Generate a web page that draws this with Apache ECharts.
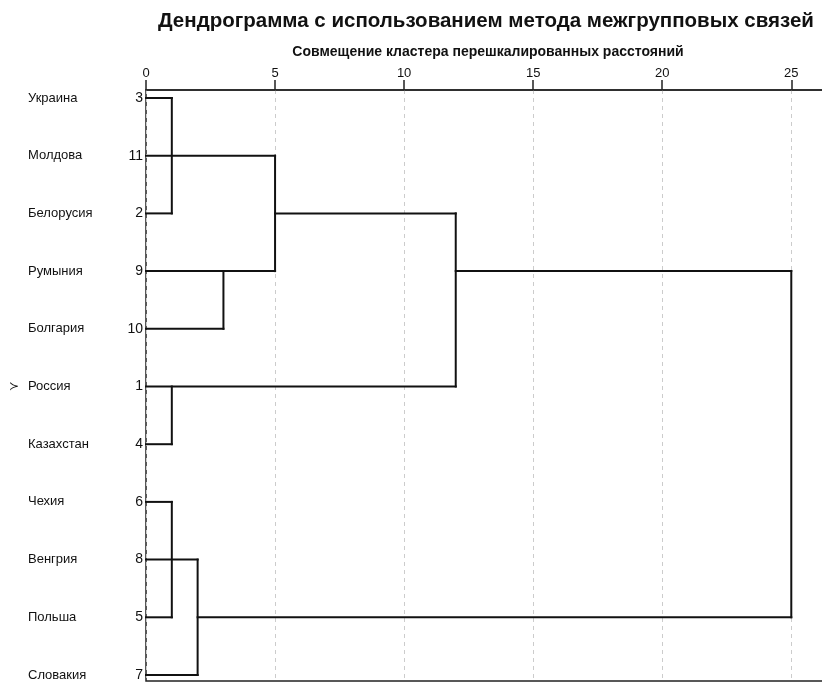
<!DOCTYPE html>
<html><head><meta charset="utf-8">
<script src="https://cdn.jsdelivr.net/npm/echarts@6/dist/echarts.min.js"></script>
<style>html,body{margin:0;padding:0;background:#fff}#c{width:822px;height:684px}</style>
</head><body><div id="c"></div>
<script>
const countries = ['Украина','Молдова','Белорусия','Румыния','Болгария','Россия','Казахстан','Чехия','Венгрия','Польша','Словакия'];
const caseNumbers = ['3','11','2','9','10','1','4','6','8','5','7'];
const markedRow = 5;
// horizontal links: [row, fromDistance, toDistance]
const hLinks = [
  [0,0,1],[2,0,1],[1,0,5],[3,0,5],[4,0,3],[2,5,12],[5,0,12],[6,0,1],
  [3,12,25],[7,0,1],[9,0,1],[8,0,2],[10,0,2],[9,2,25]
];
// vertical links: [distance, fromRow, toRow]
const vLinks = [
  [1,0,2],[5,1,3],[3,3,4],[12,2,5],[1,5,6],[25,3,9],[1,7,9],[2,8,10]
];
const segs = [];
hLinks.forEach(h => segs.push([h[1], h[0], h[2], h[0]]));
vLinks.forEach(v => segs.push([v[0], v[1], v[0], v[2]]));

const FONT = 'Liberation Sans, Arial, sans-serif';
const chart = echarts.init(document.getElementById('c'));
const XMAX = 26.5;
const catAxisBase = {gridIndex: 1, type: 'category', data: countries, inverse: true, boundaryGap: false, position: 'left',
  axisLine: {show: false}, axisTick: {show: false}, splitLine: {show: false}};
chart.setOption({
  animation: false,
  backgroundColor: '#fff',
  title: {
    text: 'Дендрограмма с использованием метода межгрупповых связей',
    left: 153, top: 6,
    textStyle: {fontFamily: FONT, fontSize: 20.5, fontWeight: 'bold', color: '#111'}
  },
  grid: [
    {left: 146, top: 90, width: 684, height: 591, show: true, borderColor: '#222', borderWidth: 1.5,
     backgroundColor: 'transparent', containLabel: false, outerBoundsMode: 'none'},
    {left: 146, top: 98, width: 684, height: 577, containLabel: false, outerBoundsMode: 'none'}
  ],
  xAxis: [
    {gridIndex: 0, type: 'value', position: 'top', min: 0, max: XMAX, interval: 5,
     name: 'Совмещение кластера перешкалированных расстояний', nameLocation: 'middle', nameGap: 31,
     nameTextStyle: {fontFamily: FONT, fontSize: 14, fontWeight: 'bold', color: '#111'},
     axisLine: {show: true, onZero: false, lineStyle: {color: '#222', width: 1.5}},
     axisTick: {show: true, length: 10, lineStyle: {color: '#222', width: 1.5}},
     axisLabel: {fontFamily: FONT, fontSize: 13, color: '#111', margin: 10, showMaxLabel: false},
     splitLine: {show: true, lineStyle: {color: '#ccc', type: [4,4], width: 1}}
    },
    {gridIndex: 1, type: 'value', min: 0, max: XMAX, show: false}
  ],
  yAxis: [
    {gridIndex: 0, type: 'value', show: false},
    Object.assign({}, catAxisBase, {
     axisLabel: {align: 'left', margin: 118, fontFamily: FONT, fontSize: 13, color: '#111', interval: 0}}),
    Object.assign({}, catAxisBase, {
     axisLabel: {align: 'right', margin: 3, fontFamily: FONT, fontSize: 14, color: '#111', interval: 0,
       formatter: (v, i) => caseNumbers[i]}}),
    Object.assign({}, catAxisBase, {
     axisLabel: {align: 'left', margin: 137, fontFamily: 'DejaVu Sans, sans-serif', fontSize: 12, color: '#111', interval: 0,
       formatter: (v, i) => i === markedRow ? '≻' : ''}})
  ],
  series: [{
    type: 'custom', xAxisIndex: 1, yAxisIndex: 1,
    data: segs,
    renderItem: function (params, api) {
      const p1 = api.coord([api.value(0), api.value(1)]);
      const p2 = api.coord([api.value(2), api.value(3)]);
      return {type: 'line', shape: {x1: p1[0], y1: p1[1], x2: p2[0], y2: p2[1]},
        style: {stroke: '#111', lineWidth: 2, lineCap: 'square'}};
    },
    encode: {x: [0,2], y: [1,3]}
  }]
});
</script></body></html>
